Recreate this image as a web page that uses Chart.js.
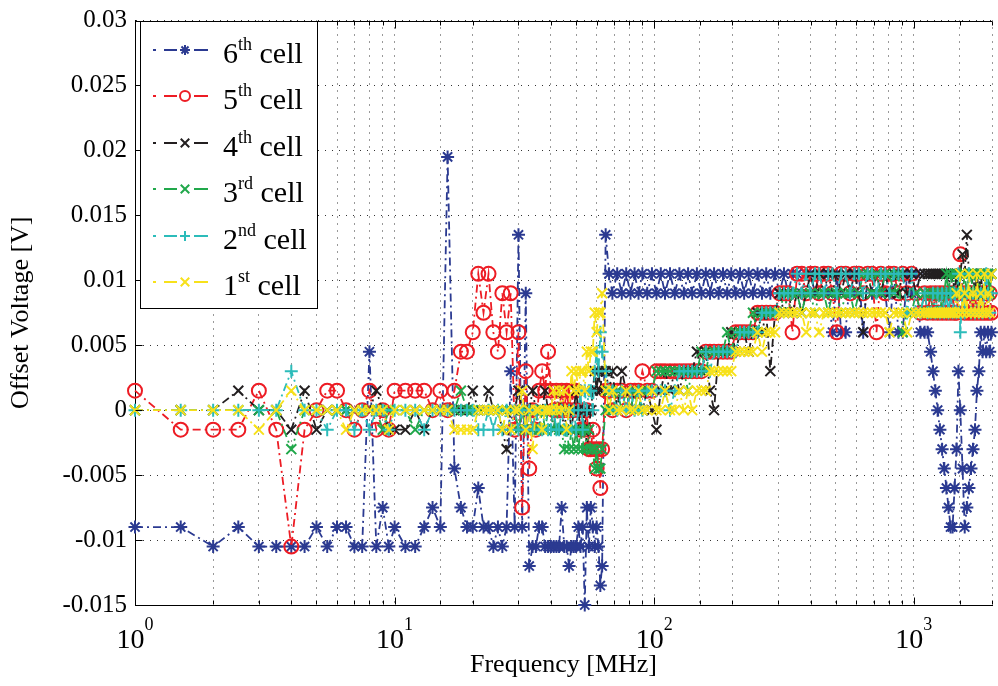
<!DOCTYPE html>
<html>
<head>
<meta charset="utf-8">
<title>Offset voltage vs frequency</title>
<script src="https://cdn.jsdelivr.net/npm/chart.js@4.4.1/dist/chart.umd.min.js"></script>
<style>
  html, body { margin: 0; padding: 0; background: #fff; overflow: hidden; }
  #wrap { width: 1001px; height: 686px; }
</style>
</head>
<body>
<div id="wrap"><canvas id="offsetChart" width="1001" height="686"></canvas></div>
<script>
// frequency points shared by all cells (MHz)
const freqMHz = [
  1, 1.5, 2, 2.5, 3, 3.5, 4, 4.5, 5, 5.5, 6, 6.5, 7, 7.5, 8, 8.5, 9, 9.5,
  10, 11, 12, 13, 14, 15, 16, 17, 18, 19,
  20, 21, 22, 23, 24, 25, 26, 27, 28, 29,
  30, 31, 32, 33, 34, 35, 36, 37, 38, 39,
  40, 41, 42, 43, 44, 45, 46, 47, 48, 49,
  50, 51, 52, 53, 54, 55, 56, 57, 58, 59,
  60, 61, 62, 63,
  65, 67, 69, 72, 75, 78, 81, 84, 87, 90,
  94, 98, 102, 106, 110, 115, 120, 125, 130, 135,
  140, 146, 152, 158, 164, 170, 177, 184, 191, 198,
  206, 214, 222, 231, 240, 250, 260, 270, 280, 292,
  304, 316, 328, 341, 355, 370, 385, 400, 416, 432,
  450, 468, 486, 505, 525, 546, 568, 590, 614, 638,
  664, 690, 718, 746, 776, 806, 838, 872, 906, 942,
  980, 1020, 1060, 1100, 1130, 1160, 1185, 1210, 1235, 1260,
  1285, 1310, 1335, 1360, 1385, 1410, 1435, 1460, 1485, 1510,
  1540, 1570, 1600, 1630, 1660, 1690, 1720, 1750, 1780, 1810,
  1840, 1870, 1900, 1930, 1960, 1990
];

// offset voltage per cell (V)
const cell6 = [
  -0.009, -0.009, -0.0105, -0.009, -0.0105, -0.0105, -0.0105, -0.0105, -0.009, -0.0105, -0.009, -0.009, -0.0105, -0.0105, 0.0045, -0.0105, -0.0075, -0.0105,
  -0.009, -0.0105, -0.0105, -0.009, -0.0075, -0.009, 0.0195, -0.0045, -0.0075, -0.009,
  -0.009, -0.006, -0.009, -0.009, -0.0105, -0.009, -0.0105, -0.009, 0.003, -0.009,
  0.0135, -0.009, 0.009, -0.012, -0.0105, -0.0105, -0.009, -0.009, -0.0105, -0.0105,
  -0.0105, -0.0105, -0.0105, -0.0105, -0.0075, -0.0105, -0.0105, -0.012, -0.0105, -0.0105,
  -0.0105, -0.009, -0.0105, -0.009, -0.015, -0.0075, -0.0105, -0.0075, -0.009, -0.0105,
  -0.009, -0.0105, -0.0135, -0.012,
  0.0135, 0.0105, 0.009, 0.0105, 0.009, 0.0105, 0.009, 0.0105, 0.009, 0.0105,
  0.009, 0.0105, 0.009, 0.0105, 0.009, 0.0105, 0.009, 0.0105, 0.009, 0.0105,
  0.009, 0.0105, 0.009, 0.0105, 0.009, 0.0105, 0.009, 0.0105, 0.009, 0.0105,
  0.009, 0.0105, 0.009, 0.0105, 0.009, 0.0105, 0.009, 0.0105, 0.009, 0.0105,
  0.009, 0.0105, 0.009, 0.0105, 0.0105, 0.009, 0.0105, 0.0105, 0.009, 0.0105,
  0.0105, 0.009, 0.006, 0.0105, 0.006, 0.006, 0.0105, 0.009, 0.0105, 0.006,
  0.0105, 0.009, 0.0105, 0.0105, 0.009, 0.006, 0.0105, 0.006, 0.006, 0.0105,
  0.009, 0.0105, 0.006, 0.006, 0.006, 0.0045, 0.003, 0.0015, 0, -0.0015,
  -0.003, -0.0045, -0.006, -0.0075, -0.009, -0.009, -0.006, -0.003, 0.003, 0,
  -0.0045, -0.009, -0.0075, -0.006, -0.0045, -0.003, -0.0015, 0.0015, 0.003, 0.006,
  0.0045, 0.006, 0.0045, 0.006, 0.0045, 0.006
];
const cell5 = [
  0.0015, -0.0015, -0.0015, -0.0015, 0.0015, -0.0015, -0.0105, -0.0015, 0, 0.0015, 0.0015, 0, -0.0015, 0, 0.0015, -0.0015, 0, -0.0015,
  0.0015, 0.0015, 0.0015, 0.0015, 0, 0.0015, 0, 0.0015, 0.0045, 0.0045,
  0.006, 0.0105, 0.0075, 0.0105, 0.006, 0.0045, 0.009, 0.006, 0.009, -0.0015,
  0.006, -0.0075, 0.003, -0.0045, 0, -0.0015, 0.0015, 0.003, 0.0015, 0.0045,
  0.0015, 0, 0.0015, 0, 0.0015, 0, 0.0015, 0, 0.0015, 0,
  0.0015, 0, -0.0015, 0, -0.0015, 0, -0.003, -0.003, -0.0015, -0.003,
  -0.0045, -0.003, -0.006, -0.003,
  0.0015, 0.0015, 0, 0.0015, 0.0015, 0, 0.0015, 0.0015, 0.0015, 0.003,
  0.0015, 0.0015, 0.003, 0.003, 0.003, 0.003, 0.003, 0.003, 0.003, 0.003,
  0.003, 0.003, 0.003, 0.0045, 0.0045, 0.0045, 0.0045, 0.0045, 0.0045, 0.0045,
  0.006, 0.006, 0.006, 0.006, 0.006, 0.0075, 0.0075, 0.0075, 0.0075, 0.0075,
  0.009, 0.009, 0.009, 0.006, 0.0105, 0.0105, 0.009, 0.0105, 0.0105, 0.009,
  0.0105, 0.0105, 0.009, 0.006, 0.0105, 0.0105, 0.009, 0.0105, 0.0105, 0.009,
  0.0105, 0.0105, 0.006, 0.0105, 0.009, 0.0105, 0.0105, 0.009, 0.0105, 0.009,
  0.0105, 0.009, 0.0075, 0.009, 0.0075, 0.009, 0.0075, 0.009, 0.0075, 0.009,
  0.0075, 0.009, 0.0075, 0.009, 0.0075, 0.009, 0.0075, 0.0075, 0.009, 0.012,
  0.009, 0.0075, 0.009, 0.0075, 0.009, 0.0075, 0.009, 0.0075, 0.009, 0.0075,
  0.009, 0.0075, 0.009, 0.0075, 0.009, 0.0075
];
const cell4 = [
  0, 0, 0, 0.0015, 0, 0, -0.0015, 0.0015, -0.0015, 0, 0, 0, 0, 0, 0, 0.0015, 0, -0.0015,
  -0.0015, -0.0015, 0, -0.0015, 0, 0, 0, 0, 0, 0,
  0.0015, 0, 0, 0.0015, 0, 0, -0.0015, -0.003, 0, 0,
  0.0015, 0, -0.0015, 0, 0.0015, 0, -0.0015, 0, 0.0015, 0,
  0, -0.0015, 0, 0.0015, 0, -0.0015, 0, 0, -0.0015, 0,
  0.0015, 0, -0.0015, -0.0015, 0, -0.003, -0.0015, 0, 0.0015, 0.003,
  0.0015, 0.003, 0.0015, 0.003,
  0.003, 0.0015, 0.003, 0, 0.003, 0.0015, 0, 0.0015, 0.0015, 0,
  0.0015, 0, -0.0015, 0.0015, 0.003, 0.0015, 0.003, 0.0015, 0.003, 0.003,
  0.003, 0.0045, 0.003, 0.0045, 0.0015, 0, 0.0045, 0.0045, 0.0045, 0.006,
  0.0045, 0.006, 0.006, 0.0045, 0.006, 0.0075, 0.006, 0.0075, 0.003, 0.0075,
  0.009, 0.0075, 0.009, 0.0075, 0.009, 0.0075, 0.009, 0.0105, 0.009, 0.0105,
  0.009, 0.0105, 0.009, 0.0105, 0.009, 0.0105, 0.009, 0.0105, 0.009, 0.006,
  0.0105, 0.009, 0.0105, 0.009, 0.0105, 0.009, 0.0105, 0.009, 0.0105, 0.009,
  0.0105, 0.009, 0.0105, 0.0105, 0.0105, 0.0105, 0.0105, 0.0105, 0.0105, 0.0105,
  0.0105, 0.0105, 0.0105, 0.0105, 0.009, 0.0105, 0.009, 0.0105, 0.009, 0.0105,
  0.012, 0.0105, 0.0135, 0.0105, 0.009, 0.0105, 0.009, 0.0105, 0.009, 0.0105,
  0.009, 0.0105, 0.009, 0.0105, 0.009, 0.0105
];
const cell3 = [
  0, 0, 0, 0, 0, 0, -0.003, 0, 0, 0, 0, 0, 0, 0, 0, 0, -0.0015, 0,
  0, 0, -0.0015, 0, 0, 0, 0, 0, 0.0015, 0,
  0, 0, 0, 0, 0, 0, 0, 0, 0, 0,
  -0.0015, 0, -0.0015, 0, -0.0015, 0, -0.0015, 0, -0.0015, 0,
  0, -0.0015, 0, -0.0015, -0.0015, -0.003, -0.0015, -0.003, -0.0015, -0.003,
  -0.0015, -0.003, -0.0015, -0.003, -0.0015, -0.003, -0.0015, -0.003, -0.003, -0.0045,
  -0.003, -0.0045, -0.0045, -0.003,
  0, 0.0015, 0, 0.0015, 0, 0.0015, 0, 0.0015, 0, 0.0015,
  0.0015, 0.0015, 0.003, 0.003, 0.003, 0.003, 0.003, 0.003, 0.003, 0.0015,
  0.003, 0.003, 0.0045, 0.003, 0.0045, 0.0045, 0.0045, 0.0045, 0.006, 0.0045,
  0.006, 0.006, 0.006, 0.006, 0.0075, 0.006, 0.0075, 0.0075, 0.0075, 0.0075,
  0.0075, 0.009, 0.0075, 0.009, 0.009, 0.0075, 0.009, 0.009, 0.0075, 0.009,
  0.009, 0.0075, 0.009, 0.009, 0.0075, 0.009, 0.009, 0.0075, 0.009, 0.0105,
  0.0105, 0.009, 0.0105, 0.009, 0.0105, 0.0105, 0.009, 0.0105, 0.006, 0.0075,
  0.0075, 0.009, 0.0075, 0.009, 0.0075, 0.009, 0.0075, 0.009, 0.0075, 0.009,
  0.0075, 0.009, 0.0105, 0.009, 0.0105, 0.009, 0.0105, 0.0105, 0.009, 0.0105,
  0.009, 0.0105, 0.009, 0.0105, 0.0105, 0.009, 0.0105, 0.0105, 0.009, 0.0105,
  0.0105, 0.009, 0.0105, 0.0105, 0.009, 0.0105
];
const cell2 = [
  0, 0, 0, 0, 0, 0, 0.003, 0, 0, -0.0015, 0, 0, -0.0015, 0, -0.0015, 0, 0, -0.0015,
  0, 0, 0, -0.0015, 0, 0, 0, 0, 0, 0,
  0, -0.0015, -0.0015, 0, -0.0015, 0, -0.0015, 0, -0.0015, 0,
  -0.0015, 0, -0.0015, 0, -0.0015, 0, -0.0015, -0.0015, 0, -0.0015,
  -0.0015, 0, -0.0015, -0.0015, 0, -0.0015, -0.0015, 0, -0.0015, 0,
  -0.0015, 0, 0.0015, -0.0015, 0.0015, 0, 0.0015, 0.0015, 0, 0.003,
  0.0045, 0.003, 0.006, 0.0045,
  0.003, 0.0015, 0.0015, 0, 0.0015, 0, 0.0015, 0, 0.0015, 0,
  0.0015, 0.0015, 0.0015, 0.0015, 0.0015, 0, 0.0015, 0.003, 0.003, 0.003,
  0.003, 0.003, 0.003, 0.0045, 0.003, 0.0045, 0.0045, 0.0045, 0.0045, 0.0045,
  0.0045, 0.006, 0.006, 0.006, 0.006, 0.006, 0.0075, 0.0075, 0.0075, 0.0075,
  0.009, 0.009, 0.009, 0.009, 0.0105, 0.009, 0.0105, 0.009, 0.0105, 0.0105,
  0.009, 0.0105, 0.0105, 0.009, 0.0105, 0.0105, 0.009, 0.0105, 0.0105, 0.009,
  0.0105, 0.0105, 0.009, 0.0105, 0.0105, 0.009, 0.0105, 0.0105, 0.0105, 0.0075,
  0.0105, 0.0075, 0.0075, 0.009, 0.0075, 0.0075, 0.009, 0.0075, 0.009, 0.0075,
  0.009, 0.0075, 0.009, 0.0075, 0.009, 0.0075, 0.009, 0.0075, 0.0105, 0.006,
  0.009, 0.0075, 0.009, 0.0105, 0.0075, 0.009, 0.0075, 0.009, 0.0075, 0.009,
  0.0075, 0.009, 0.0105, 0.009, 0.0075, 0.009
];
const cell1 = [
  0, 0, 0, 0, -0.0015, 0, 0.0015, 0, 0, 0, 0, -0.0015, 0, 0, 0, 0, 0, -0.0015,
  0, 0, 0, 0, 0, 0, 0, -0.0015, -0.0015, -0.0015,
  -0.0015, 0, 0, 0, 0, 0, -0.0015, 0, -0.0015, 0,
  0, 0.0015, -0.0015, 0, -0.003, 0, 0, -0.0015, 0, 0,
  0, 0.0015, 0, 0.0015, 0, 0.0015, -0.0015, 0, 0.003, 0.0015,
  0.003, 0.0015, 0.003, 0.003, 0.0015, 0.0045, 0.003, 0.0045, 0.0045, 0.0075,
  0.006, 0.0075, 0.0075, 0.009,
  0.0015, 0, 0.0015, 0, 0, 0.0015, 0, 0, 0.0015, 0,
  0, 0.0015, 0, 0, 0.0015, 0, 0, 0.0015, 0, 0.0015,
  0, 0.0015, 0.0015, 0.0015, 0.003, 0.003, 0.003, 0.003, 0.003, 0.003,
  0.0045, 0.0045, 0.0045, 0.0045, 0.0045, 0.006, 0.0045, 0.006, 0.006, 0.006,
  0.0075, 0.0075, 0.0075, 0.0075, 0.0075, 0.0075, 0.006, 0.0075, 0.0075, 0.006,
  0.0075, 0.0075, 0.0075, 0.0075, 0.0075, 0.0075, 0.0075, 0.0075, 0.0075, 0.0075,
  0.0075, 0.0075, 0.0075, 0.0075, 0.0075, 0.006, 0.0075, 0.0075, 0.0075, 0.006,
  0.0075, 0.0075, 0.0075, 0.0075, 0.0075, 0.0075, 0.0075, 0.0075, 0.0075, 0.0075,
  0.0075, 0.0075, 0.0075, 0.0075, 0.0075, 0.0075, 0.0075, 0.009, 0.0075, 0.0105,
  0.0075, 0.009, 0.0075, 0.0105, 0.0075, 0.009, 0.0075, 0.0105, 0.0075, 0.009,
  0.0075, 0.0105, 0.0075, 0.009, 0.0075, 0.0105
];

const xTickExponents = [0, 1, 2, 3];

const FONT = '"Liberation Serif", "Times New Roman", serif';
const DASH_DOT = [8, 4, 2, 4];

function makeSet(label, values, color, style, radius, order) {
  return {
    label: label,
    data: values.map((v, i) => ({ x: freqMHz[i], y: v })),
    borderColor: color,
    backgroundColor: color,
    borderWidth: 1.8,
    borderDash: DASH_DOT,
    pointStyle: style,
    pointRadius: radius,
    pointBorderWidth: 2,
    pointBorderColor: color,
    pointBackgroundColor: style === 'circle' ? 'rgba(0,0,0,0)' : color,
    tension: 0,
    fill: false,
    clip: 8,
    order: order
  };
}

// small marker drawer for the legend
function drawMarker(ctx, style, x, y, r) {
  ctx.beginPath();
  if (style === 'circle') {
    ctx.arc(x, y, r, 0, Math.PI * 2);
  }
  if (style === 'cross' || style === 'star') {
    ctx.moveTo(x - r, y); ctx.lineTo(x + r, y);
    ctx.moveTo(x, y - r); ctx.lineTo(x, y + r);
  }
  if (style === 'crossRot' || style === 'star') {
    const d = r * Math.SQRT1_2;
    ctx.moveTo(x - d, y - d); ctx.lineTo(x + d, y + d);
    ctx.moveTo(x - d, y + d); ctx.lineTo(x + d, y - d);
  }
  ctx.stroke();
}

// box on top, inward ticks, 10^n tick labels
const frame = {
  id: 'frame',
  afterDraw(chart) {
    const ctx = chart.ctx;
    const a = chart.chartArea;
    const xs = chart.scales.x, ys = chart.scales.y;
    ctx.save();
    ctx.strokeStyle = '#000';
    ctx.lineWidth = 1;
    ctx.setLineDash([]);
    ctx.beginPath();
    const top = Math.round(a.top) + 0.5, bottom = Math.round(a.bottom) - 0.5, left = Math.round(a.left) + 0.5;
    ctx.moveTo(a.left, top); ctx.lineTo(a.right, top);
    xs.ticks.forEach(t => {
      const px = Math.round(xs.getPixelForValue(t.value)) + 0.5;
      const lg = Math.log10(t.value);
      const len = Math.abs(lg - Math.round(lg)) < 1e-6 ? 7 : 4;
      ctx.moveTo(px, bottom); ctx.lineTo(px, bottom - len);
      ctx.moveTo(px, top); ctx.lineTo(px, top + len);
    });
    ys.ticks.forEach(t => {
      const py = Math.round(ys.getPixelForValue(t.value)) + 0.5;
      ctx.moveTo(left, py); ctx.lineTo(left + 7, py);
    });
    ctx.stroke();

    ctx.fillStyle = '#000';
    ctx.textAlign = 'left';
    ctx.textBaseline = 'alphabetic';
    xTickExponents.forEach(k => {
      const px = xs.getPixelForValue(Math.pow(10, k));
      ctx.font = '28px ' + FONT;
      const wb = ctx.measureText('10').width;
      ctx.font = '18px ' + FONT;
      const we = ctx.measureText(String(k)).width;
      const x0 = px - (wb + we) / 2;
      ctx.font = '28px ' + FONT;
      ctx.fillText('10', x0, 648);
      ctx.font = '18px ' + FONT;
      ctx.fillText(String(k), x0 + wb, 630);
    });
    ctx.restore();
  }
};

const legendBox = {
  id: 'legendBox',
  afterDraw(chart) {
    const ctx = chart.ctx;
    ctx.save();
    ctx.setLineDash([]);
    ctx.fillStyle = '#fff';
    ctx.fillRect(140.5, 21.5, 177, 287);
    ctx.strokeStyle = '#000';
    ctx.lineWidth = 1;
    ctx.strokeRect(140.5, 21.5, 177, 287);
    chart.data.datasets.forEach((ds, i) => {
      const cy = Math.round(50 + i * 46.4);
      ctx.strokeStyle = ds.borderColor;
      ctx.lineWidth = 2;
      ctx.beginPath();
      ctx.moveTo(153, cy); ctx.lineTo(156, cy);
      ctx.moveTo(164, cy); ctx.lineTo(177, cy);
      ctx.moveTo(194, cy); ctx.lineTo(208, cy);
      ctx.stroke();
      ctx.lineWidth = 2;
      drawMarker(ctx, ds.pointStyle, 185, cy, ds.pointStyle === 'crossRot' ? 6 : 5);

      const num = ds.label.slice(0, 1), sup = ds.label.slice(1, 3), rest = ds.label.slice(3);
      const base = cy + 13;
      let tx = 223;
      ctx.fillStyle = '#000';
      ctx.textAlign = 'left';
      ctx.textBaseline = 'alphabetic';
      ctx.font = '30px ' + FONT;
      ctx.fillText(num, tx, base);
      tx += ctx.measureText(num).width;
      ctx.font = '18px ' + FONT;
      ctx.fillText(sup, tx, base - 13);
      tx += ctx.measureText(sup).width;
      ctx.font = '30px ' + FONT;
      ctx.fillText(rest, tx, base);
    });
    ctx.restore();
  }
};

const gridStyle = { color: '#333', lineWidth: 1, drawTicks: false };
const borderStyle = { display: true, color: '#000', width: 1, dash: [1, 6] };

new Chart(document.getElementById('offsetChart'), {
  type: 'line',
  data: {
    datasets: [
      makeSet('6th cell', cell6, '#2B3A91', 'star', 6.5, 6),
      makeSet('5th cell', cell5, '#ED1C24', 'circle', 7, 5),
      makeSet('4th cell', cell4, '#231F20', 'crossRot', 7, 4),
      makeSet('3rd cell', cell3, '#21A84B', 'crossRot', 7, 3),
      makeSet('2nd cell', cell2, '#2CBCBA', 'cross', 6.5, 2),
      makeSet('1st cell', cell1, '#F7E11B', 'crossRot', 7, 1)
    ]
  },
  options: {
    responsive: false,
    animation: false,
    events: [],
    layout: { padding: { top: 15, right: 1, left: 0, bottom: 0 } },
    plugins: { legend: { display: false }, tooltip: { enabled: false } },
    scales: {
      x: {
        type: 'logarithmic',
        min: 1,
        max: 2000,
        ticks: { display: false },
        grid: gridStyle,
        border: borderStyle,
        title: {
          display: true, text: 'Frequency [MHz]', color: '#000',
          font: { family: FONT, size: 26 }, padding: { top: 0, bottom: 5 }
        },
        afterFit: s => { s.height = 81; }
      },
      y: {
        type: 'linear',
        min: -0.015,
        max: 0.03,
        ticks: {
          stepSize: 0.005,
          color: '#000',
          padding: 8,
          font: { family: FONT, size: 25, lineHeight: 1 },
          callback: v => {
            const r = Math.round(v * 1000) / 1000;
            return r === 0 ? '0' : String(r);
          }
        },
        grid: gridStyle,
        border: borderStyle,
        title: {
          display: true, text: 'Offset Voltage [V]', color: '#000',
          font: { family: FONT, size: 26 }, padding: { top: 6, bottom: 0 }
        },
        afterFit: s => { s.width = 135; }
      }
    }
  },
  plugins: [frame, legendBox]
});
</script>
</body>
</html>
